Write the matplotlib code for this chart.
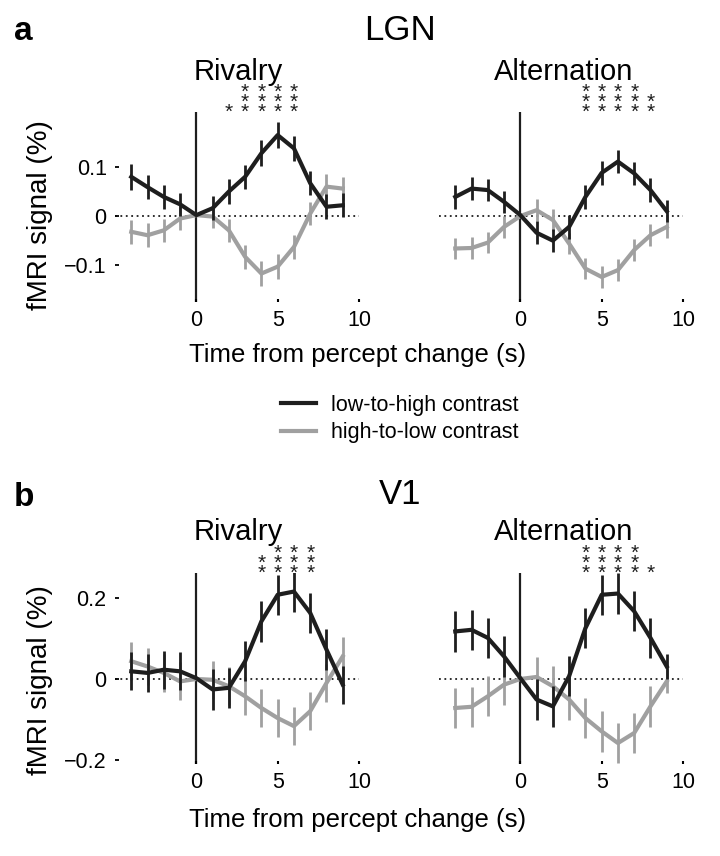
# LGN / V1 percept-change time courses, rivalry vs alternation

import numpy as np
from matplotlib import pyplot as plt
from matplotlib import transforms

plt.rcParams['font.family'] = ['Liberation Sans', 'DejaVu Sans']

t = list(range(-4, 10))

# LGN, rivalry
lgn_riv_up = [0.080, 0.059, 0.039, 0.024, 0.002, 0.016, 0.050, 0.080, 0.128, 0.165, 0.138, 0.067, 0.019, 0.022]
lgn_riv_up_err = [0.027, 0.025, 0.025, 0.024, 0.000, 0.024, 0.025, 0.025, 0.026, 0.027, 0.026, 0.025, 0.025, 0.024]
lgn_riv_down = [-0.032, -0.039, -0.029, -0.005, 0.002, -0.001, -0.029, -0.083, -0.117, -0.103, -0.063, 0.005, 0.060, 0.056]
lgn_riv_down_err = [0.024, 0.024, 0.023, 0.023, 0.000, 0.023, 0.024, 0.024, 0.025, 0.025, 0.024, 0.024, 0.025, 0.024]
# LGN, alternation
lgn_alt_up = [0.039, 0.056, 0.053, 0.029, 0.002, -0.034, -0.050, -0.022, 0.039, 0.088, 0.111, 0.087, 0.053, 0.010]
lgn_alt_up_err = [0.024, 0.023, 0.023, 0.023, 0.000, 0.023, 0.024, 0.024, 0.024, 0.024, 0.024, 0.024, 0.024, 0.023]
lgn_alt_down = [-0.066, -0.065, -0.054, -0.022, 0.000, 0.012, -0.008, -0.056, -0.107, -0.124, -0.110, -0.069, -0.039, -0.022]
lgn_alt_down_err = [0.022, 0.022, 0.022, 0.022, 0.000, 0.022, 0.022, 0.022, 0.022, 0.022, 0.022, 0.022, 0.022, 0.022]
# V1, rivalry
v1_riv_up = [0.019, 0.015, 0.023, 0.019, 0.002, -0.026, -0.022, 0.044, 0.143, 0.209, 0.217, 0.164, 0.073, -0.014]
v1_riv_up_err = [0.047, 0.047, 0.047, 0.047, 0.000, 0.050, 0.050, 0.050, 0.050, 0.050, 0.050, 0.050, 0.050, 0.047]
v1_riv_down = [0.044, 0.031, 0.015, -0.006, 0.000, -0.002, -0.018, -0.043, -0.072, -0.097, -0.117, -0.080, -0.010, 0.056]
v1_riv_down_err = [0.047, 0.047, 0.047, 0.047, 0.000, 0.047, 0.047, 0.047, 0.047, 0.047, 0.047, 0.047, 0.047, 0.047]
# V1, alternation
v1_alt_up = [0.118, 0.122, 0.102, 0.056, 0.002, -0.051, -0.068, 0.007, 0.126, 0.209, 0.212, 0.168, 0.102, 0.031]
v1_alt_up_err = [0.050, 0.050, 0.050, 0.050, 0.000, 0.050, 0.050, 0.050, 0.050, 0.050, 0.050, 0.050, 0.050, 0.030]
v1_alt_down = [-0.072, -0.069, -0.043, -0.014, 0.000, 0.005, -0.018, -0.051, -0.097, -0.130, -0.159, -0.134, -0.068, -0.006]
v1_alt_down_err = [0.050, 0.050, 0.050, 0.050, 0.000, 0.050, 0.050, 0.050, 0.050, 0.050, 0.050, 0.050, 0.050, 0.030]

# significance stars: time point -> number of stars
stars_lgn_riv = {2: 1, 3: 3, 4: 3, 5: 3, 6: 3}
stars_lgn_alt = {4: 3, 5: 3, 6: 3, 7: 3, 8: 2}
stars_v1_riv = {4: 2, 5: 3, 6: 3, 7: 3}
stars_v1_alt = {4: 3, 5: 3, 6: 3, 7: 3, 8: 1}

black = '#1e1e1e'
gray = '#a0a0a0'


def panel(ax, up, up_err, down, down_err, stars, ylim, yticks, show_y):
    ax.axvline(0, color=black, lw=1.6, zorder=1)
    ax.axhline(0, color=black, lw=1.3, ls=(0, (1, 2)), zorder=1)
    ax.errorbar(t, down, yerr=down_err, color=gray, lw=3, elinewidth=2, capsize=0, zorder=2)
    ax.errorbar(t, up, yerr=up_err, color=black, lw=3, elinewidth=2, capsize=0, zorder=3)
    ax.set_xlim(-5, 10)
    ax.set_ylim(ylim)
    for s in ax.spines.values():
        s.set_visible(False)
    ax.set_xticks([0, 5, 10])
    ax.tick_params(axis='x', direction='in', length=2.5, width=1.5, pad=6, labelsize=15.5)
    if show_y:
        ax.set_yticks(yticks)
        ax.set_yticklabels([('%g' % v).replace('-', '\u2212') for v in yticks])
        ax.tick_params(axis='y', direction='in', length=3, width=1.3, pad=6, labelsize=15.5)
    else:
        ax.set_yticks([])
    tr = transforms.blended_transform_factory(ax.transData, ax.transAxes)
    for x, n in stars.items():
        ax.annotate('\n'.join(['*'] * n), xy=(x, 1.0), xycoords=tr, xytext=(0, -7),
                    textcoords='offset points', ha='center', va='bottom',
                    fontsize=15, linespacing=0.39, color=black, annotation_clip=False)


fig = plt.figure(figsize=(7.2, 8.56), dpi=100)

W, H = 720.0, 856.0
lefts = [115, 439]
rows = [(302, 190), (764, 191)]

ax1 = fig.add_axes([lefts[0] / W, (H - rows[0][0]) / H, 244 / W, rows[0][1] / H])
ax2 = fig.add_axes([lefts[1] / W, (H - rows[0][0]) / H, 244 / W, rows[0][1] / H])
ax3 = fig.add_axes([lefts[0] / W, (H - rows[1][0]) / H, 244 / W, rows[1][1] / H])
ax4 = fig.add_axes([lefts[1] / W, (H - rows[1][0]) / H, 244 / W, rows[1][1] / H])

panel(ax1, lgn_riv_up, lgn_riv_up_err, lgn_riv_down, lgn_riv_down_err, stars_lgn_riv,
      (-0.175, 0.212), [-0.1, 0, 0.1], True)
panel(ax2, lgn_alt_up, lgn_alt_up_err, lgn_alt_down, lgn_alt_down_err, stars_lgn_alt,
      (-0.175, 0.212), [-0.1, 0, 0.1], False)
panel(ax3, v1_riv_up, v1_riv_up_err, v1_riv_down, v1_riv_down_err, stars_v1_riv,
      (-0.211, 0.263), [-0.2, 0, 0.2], True)
panel(ax4, v1_alt_up, v1_alt_up_err, v1_alt_down, v1_alt_down_err, stars_v1_alt,
      (-0.211, 0.263), [-0.2, 0, 0.2], False)

# titles and labels
fig.text(14 / W, 1 - 32 / H, 'a', fontsize=24, fontweight='bold', va='center')
fig.text(14 / W, 1 - 497 / H, 'b', fontsize=24, fontweight='bold', va='center')
fig.text(400 / W, 1 - 30 / H, 'LGN', fontsize=25, ha='center', va='center')
fig.text(400 / W, 1 - 495 / H, 'V1', fontsize=25, ha='center', va='center')
for y in (72, 532):
    fig.text(238 / W, 1 - y / H, 'Rivalry', fontsize=21, ha='center', va='center')
    fig.text(564 / W, 1 - y / H, 'Alternation', fontsize=21, ha='center', va='center')
for y in (355, 820):
    fig.text(358 / W, 1 - y / H, 'Time from percept change (s)', fontsize=18.5, ha='center', va='center')
for y in (215, 680):
    fig.text(40 / W, 1 - y / H, 'fMRI signal (%)', fontsize=20, ha='center', va='center', rotation=90)

h1, = ax1.plot([], [], color=black, lw=3)
h2, = ax1.plot([], [], color=gray, lw=3)
fig.legend([h1, h2], ['low-to-high contrast', 'high-to-low contrast'],
           loc='center', bbox_to_anchor=(400 / W, 1 - 419 / H), frameon=False,
           fontsize=15.5, handlelength=1.6, handletextpad=0.7, labelspacing=0.3)

fig.savefig('out.png', dpi=100)
